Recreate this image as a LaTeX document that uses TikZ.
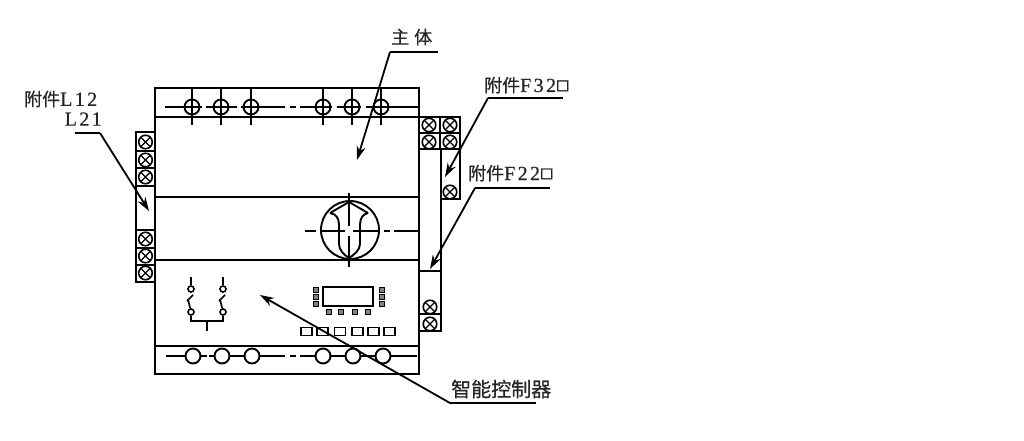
\documentclass[tikz,border=0pt]{standalone}
\usepackage{fontspec}
\setmainfont{Liberation Serif}
\newfontfamily\cjk[FakeBold=0.6]{Noto Sans CJK SC}
\newfontfamily\latf[LetterSpace=12,FakeBold=0.6]{Liberation Serif}
\newcommand{\lat}{\fontsize{20}{20}\selectfont\latf}
\newfontfamily\boxf[FakeBold=3]{DejaVu Sans}
\newcommand{\bx}{\raisebox{2.5pt}{\fontsize{14}{14}\selectfont\boxf □}}
\usetikzlibrary{arrows.meta}
\tikzset{
  outline/.style={draw=black,line width=1.9pt},
  thin line/.style={draw=black,line width=1.6pt},
  screw/.style={circle,draw=black,line width=1.6pt,minimum size=13.5pt,inner sep=0pt,
    path picture={\draw[line width=1.2pt] (path picture bounding box.north west)--(path picture bounding box.south east)
      (path picture bounding box.north east)--(path picture bounding box.south west);}},
  terminal/.style={circle,draw=black,line width=1.9pt,minimum size=15pt,inner sep=0pt},
  contact/.style={circle,draw=black,line width=1.6pt,minimum size=6pt,inner sep=0pt},
  leader/.style={draw=black,line width=1.8pt},
  pointer/.style={draw=black,line width=1.8pt,-{Stealth[length=14pt,width=9pt]}},
  label/.style={inner sep=0pt,font=\fontsize{18}{18}\selectfont,text=black!85},
  led/.style={draw=black,fill=black!50,line width=1.2pt,minimum size=5pt,inner sep=0pt},
  key/.style={draw=black,line width=1.6pt,minimum width=11pt,minimum height=8pt,inner sep=0pt},
}
\begin{document}
\begin{tikzpicture}[x=1pt,y=-1pt]
\useasboundingbox[fill=white] (0,0) rectangle (1024,441);
% main body
\draw[outline] (155,88) rectangle (419,374);
\foreach \y in {117,197,260,346} \draw[outline] (155,\y) -- (419,\y);
% left attachment
\draw[outline] (155,132) -- (136,132) -- (136,282) -- (155,282);
\foreach \y in {151,168,186,230,248,265} \draw[thin line] (136,\y) -- (155,\y);
\foreach \n/\y in {la/142,lb/160,lc/177,ld/239,le/256,lf/273} \node[screw] (\n) at (145.5,\y) {};
% right top attachment
\draw[outline] (419,117) -- (460,117) -- (460,199) -- (441,199);
\draw[outline] (419,149) -- (460,149);
\draw[thin line] (419,133) -- (460,133);
\draw[outline] (440,117) -- (440,149);
\draw[outline] (441,149) -- (441,332);
\foreach \n/\x/\y in {ra/429/125,rb/450/125,rc/429/142,rd/450/142,re/450/192} \node[screw] (\n) at (\x,\y) {};
% right lower attachment
\draw[outline] (419,271) -- (441,271);
\draw[outline] (419,331) -- (441,331);
\draw[thin line] (419,314) -- (441,314);
\foreach \n/\y in {rf/307,rg/324} \node[screw] (\n) at (430,\y) {};
% top terminals
\foreach \n/\x in {ta/192,tb/221,tc/251,td/323,te/352,tf/381} {
  \node[terminal] (\n) at (\x,107) {};
  \draw[thin line] (\x,88) -- (\x,125);
}
\draw[thin line] (165,107) -- (202,107) (206,107) -- (237,107) (241,107) -- (285,107) (290,107) -- (296,107) (300,107) -- (332,107) (337,107) -- (361,107) (366,107) -- (418,107);
% bottom terminals
\foreach \n/\x in {ba/193,bb/222,bc/252,bd/323,be/353,bf/383} \node[terminal] (\n) at (\x,356) {};
\draw[thin line] (166,356) -- (ba.west) (ba.east) -- (207,356) (209,356) -- (bb.west) (bb.east) -- (bc.west) (bc.east) -- (285,356) (290,356) -- (296,356) (300,356) -- (bd.west) (bd.east) -- (be.west) (be.east) -- (bf.west) (bf.east) -- (417,356);
% knob
\draw[outline] (350,230) circle[radius=29pt];
\draw[thin line] (305,231) -- (316,231) (320,231) -- (345,231) (353,231) -- (380,231) (384,231) -- (390,231) (394,231) -- (418,231);
\draw[outline] (349,193) -- (349,226) (349,236) -- (349,267);
\draw[outline] (330,213) -- (349,202) -- (368,213);
\draw[outline] (330,213) .. controls (336,214) and (339,218) .. (339,225) -- (339,244) .. controls (339,250) and (344,255) .. (349,258);
\draw[outline] (368,213) .. controls (363,214) and (360,218) .. (360,225) -- (360,244) .. controls (360,250) and (354,255) .. (349,258);
% switch symbol
\foreach \p/\x in {a/191,b/223} {
  \node[contact] (u\p) at (\x,289) {};
  \node[contact] (d\p) at (\x,312) {};
  \draw[thin line] (\x,277) -- (u\p);
  \draw[thin line] (\x-4,301) -- (\x+2,295);
  \draw[thin line] (\x-3,299) -- (d\p);
}
\draw[thin line] (da) -- (191,321) -- (223,321) -- (db);
\draw[thin line] (207,321) -- (207,331);
% display
\node[draw=black,line width=1.9pt,minimum width=50pt,minimum height=19pt,inner sep=0pt] (disp) at (348,296.5) {};
\foreach \n/\x/\y in {a/316/290,b/316/297,c/316/304,d/382/290,e/382/297,f/382/304,g/329/312,h/341/312,i/355/312,j/368/312} \node[led] (led\n) at (\x,\y) {};
\foreach \n/\x in {a/306.5,b/322.5,c/340,d/357.5,e/373.5,f/389.5} \node[key] (key\n) at (\x,331.5) {};
% labels
\node[label,anchor=west] (lbody) at (391,37) {{\cjk 主\hspace{5pt}体}};
\node[label,anchor=west] (lL) at (24,99) {{\cjk 附件}{\lat L12}};
\node[label,anchor=east] (lLb) at (102,119) {{\lat L21}};
\node[label,anchor=base west] (lF3) at (484,92) {{\cjk 附件}{\lat F32}\bx};
\node[label,anchor=base west] (lF2) at (468,180) {{\cjk 附件}{\lat F22}\bx};
\node[label,anchor=west,font=\fontsize{20}{20}\selectfont] (lC) at (451,389) {{\cjk 智能控制器}};
% leaders
\foreach \n/\x/\y in {bodyA/390/52,bodyB/438/52,bodyT/357/160,LA/75/133,LB/100/133,LT/149/211,F3A/488/98,F3B/563/98,F3T/445/177,F2A/475/188,F2B/550/188,F2T/430/269,CA/450/403,CB/536/403,CT/260/295}
  \coordinate (\n) at (\x,\y);
\draw[leader] (bodyB) -- (bodyA); \draw[pointer] (bodyA) -- (bodyT);
\draw[leader] (LA) -- (LB); \draw[pointer] (LB) -- (LT);
\draw[leader] (F3B) -- (F3A); \draw[pointer] (F3A) -- (F3T);
\draw[leader] (F2B) -- (F2A); \draw[pointer] (F2A) -- (F2T);
\draw[leader] (CB) -- (CA); \draw[pointer] (CA) -- (CT);
\end{tikzpicture}
\end{document}
